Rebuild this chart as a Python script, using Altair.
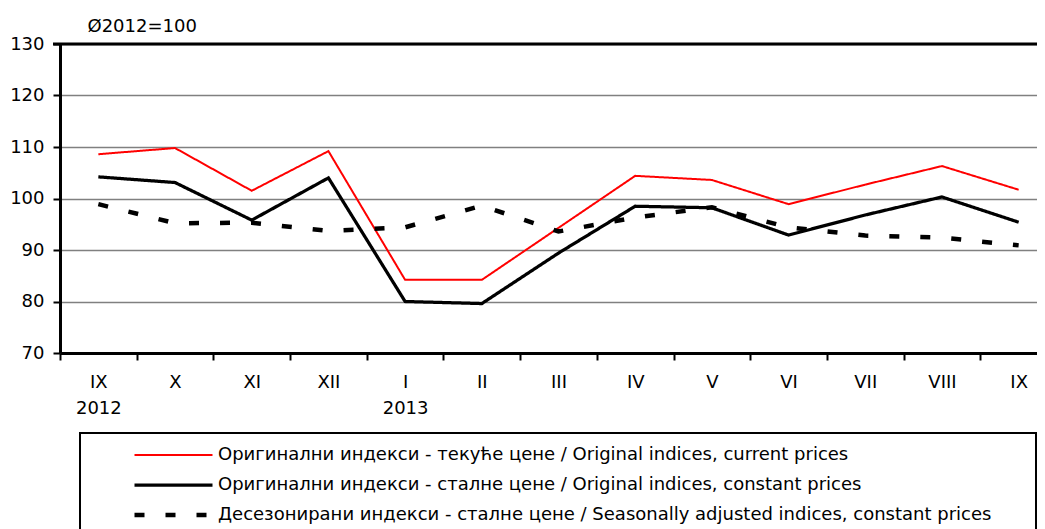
import json
import altair as alt
import pandas as pd

months = ["IX", "X", "XI", "XII", "I", "II", "III", "IV", "V", "VI", "VII", "VIII", "IX"]
years = ["2012", "", "", "", "2013", "", "", "", "", "", "", "", ""]
series_names = [
    "Оригинални индекси - текуће цене / Original indices, current prices",
    "Оригинални индекси - сталне цене / Original indices, constant prices",
    "Десезонирани индекси - сталне цене / Seasonally adjusted indices, constant prices",
]
current = [108.6, 109.8, 101.5, 109.2, 84.2, 84.2, 94.3, 104.4, 103.6, 98.9, 102.7, 106.3, 101.7]
constant = [104.2, 103.1, 95.8, 104.0, 80.0, 79.6, 89.4, 98.5, 98.2, 92.9, 96.8, 100.3, 95.4]
seasonal = [98.9, 95.2, 95.3, 93.7, 94.4, 98.6, 93.6, 96.3, 98.3, 94.4, 92.8, 92.4, 90.9]
y_ticks = [70, 80, 90, 100, 110, 120, 130]

colors = ["#ff0000", "#000000", "#000000"]
dashes = [[1, 0], [1, 0], [10, 21]]
widths = [2, 4.5, 4]

rows = []
for name, vals in zip(series_names, [current, constant, seasonal]):
    for i, v in enumerate(vals):
        rows.append({"idx": i, "series": name, "value": v})
df = pd.DataFrame(rows)

labels = [[m, y] if y else m for m, y in zip(months, years)]
label_expr = json.dumps(labels, ensure_ascii=False) + "[datum.value]"

FONT = "DejaVu Sans"

leg = alt.Legend(
    title=None, orient="none", legendX=72, legendY=401,
    symbolType="stroke", symbolSize=6084, labelFontSize=18, labelFont=FONT,
    labelLimit=2000, labelOffset=3, clipHeight=20, rowPadding=10, padding=0,
    labelColor="black",
)

x = alt.X(
    "idx:O",
    scale=alt.Scale(type="band", range=[0, 997], paddingInner=0, paddingOuter=0),
    axis=alt.Axis(
        title=None, labelExpr=label_expr, labelAngle=0, tickBand="extent",
        domainWidth=3, domainColor="black", tickColor="black", tickWidth=2,
        tickSize=7, labelFontSize=18, labelFont=FONT, labelPadding=13,
        labelLineHeight=26.5, grid=False, labelColor="black",
    ),
)
y = alt.Y(
    "value:Q",
    scale=alt.Scale(domain=[70, 130], nice=False, zero=False),
    axis=alt.Axis(
        values=y_ticks, title="Ø2012=100", titleAngle=0, titleX=27, titleY=-13,
        titleAlign="left", titleBaseline="alphabetic", titleFontSize=18,
        titleFontWeight="normal", titleFont=FONT, titleColor="black",
        grid=True, gridColor="#808080", gridWidth=1.5,
        domainWidth=3, domainColor="black", tickColor="black", tickWidth=2,
        tickSize=7, labelPadding=9, labelFontSize=18, labelFont=FONT,
        labelColor="black",
    ),
)

lines = alt.Chart(df).mark_line().encode(
    x=x,
    y=y,
    color=alt.Color("series:N", scale=alt.Scale(domain=series_names, range=colors), legend=leg),
    strokeDash=alt.StrokeDash("series:N", scale=alt.Scale(domain=series_names, range=dashes), legend=leg),
    strokeWidth=alt.StrokeWidth("series:N", scale=alt.Scale(domain=series_names, range=widths), legend=leg),
)

dummy = alt.Data(values=[{}])
top_border = alt.Chart(dummy).mark_rule(color="black", strokeWidth=3).encode(
    x=alt.value(-7), x2=alt.value(997), y=alt.value(0)
)
legend_box = alt.Chart(dummy).mark_rect(fill=None, stroke="black", strokeWidth=2).encode(
    x=alt.value(20), x2=alt.value(976), y=alt.value(389), y2=alt.value(520)
)

chart = alt.layer(lines, top_border, legend_box).properties(
    width=977, height=309,
    autosize=alt.AutoSizeParams(type="none"),
    padding={"left": 52, "top": 36, "right": 0, "bottom": 176},
).configure_view(stroke=None).configure(background="white")

chart.save("out.html", embed_options={"renderer": "svg", "actions": False})
